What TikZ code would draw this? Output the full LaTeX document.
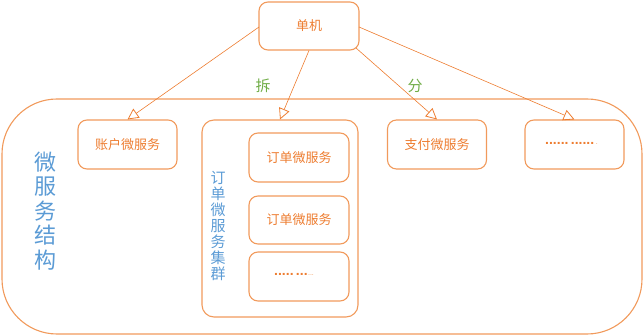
\documentclass[tikz,border=0pt]{standalone}
\usepackage{fontspec}
\setmainfont{Noto Sans CJK SC}
\newfontfamily\dotfont{Liberation Sans}
\usetikzlibrary{arrows.meta}
\definecolor{boxc}{HTML}{F19A5C}
\definecolor{txto}{HTML}{ED7D31}
\definecolor{txtb}{HTML}{5B9BD5}
\definecolor{txtg}{HTML}{70AD47}
\tikzset{
  svc/.style={draw=boxc, line width=1.1pt, rounded corners=9pt, text=txto, font=\fontsize{13}{15}\selectfont},
  conn/.style={draw=txto, line width=0.6pt, -{Triangle[open, length=11pt, width=11pt, line width=0.8pt]}},
  vlab/.style={text=txtb, align=center},
  dots/.style={text=txto, font=\dotfont\bfseries\fontsize{14}{16}\selectfont, inner sep=0pt},
  smalldots/.style={text=boxc, font=\dotfont\fontsize{7}{8}\selectfont, inner sep=0pt, anchor=base west},
}
\begin{document}
\begin{tikzpicture}[x=1pt,y=-1pt]
\useasboundingbox (0,0) rectangle (644,336);
% outer structure
\draw[boxc, line width=1.1pt, rounded corners=55pt] (2,99) rectangle (642,334);
% 单机
\node[svc, minimum width=100pt, minimum height=48pt] (host) at (309,26) {单机};
% services
\node[svc, minimum width=99pt, minimum height=49pt] (acct) at (127.5,144.5) {账户微服务};
\node[draw=boxc, line width=1.1pt, rounded corners=12pt, minimum width=156pt, minimum height=197pt] (clu) at (280,218.5) {};
\node[svc, minimum width=100pt, minimum height=49pt] (o1) at (299,157.5) {订单微服务};
\node[svc, minimum width=100pt, minimum height=48pt] (o2) at (299,220) {订单微服务};
\node[svc, minimum width=100pt, minimum height=49pt] (o3) at (299,276.5) {};
\node[dots, anchor=base west] (o3t) at (274,276) {.....\,...};
\node[smalldots] (o3d) at (o3t.base east) {...};
\node[svc, minimum width=99pt, minimum height=49pt] (pay) at (437,144.5) {支付微服务};
\node[svc, minimum width=99pt, minimum height=49pt] (more) at (574.5,144.5) {};
\node[dots, anchor=base west] (moret) at (545,145) {......\,......};
\node[smalldots] (mored) at (moret.base east) {\,.};
% vertical labels
\node[vlab, font=\fontsize{22}{24.5}\selectfont] (arch) at (45,211) {微\\服\\务\\结\\构};
\node[vlab, font=\fontsize{15}{16}\selectfont] (clul) at (218,226) {订\\单\\微\\服\\务\\集\\群};
% split labels
\node[text=txtg, font=\fontsize{15}{17}\selectfont] (l1) at (263,86) {拆};
\node[text=txtg, font=\fontsize{15}{17}\selectfont] (l2) at (415,86) {分};
% connectors
\coordinate (h1) at (259,27);
\coordinate (h2) at (309,50.5);
\coordinate (h3) at (356,48);
\coordinate (h4) at (359,27);
\draw[conn] (h1) -- (acct.north);
\draw[conn] (h2) -- (clu.north);
\draw[conn] (h3) -- (pay.north);
\draw[conn] (h4) -- (more.north);
\end{tikzpicture}
\end{document}
